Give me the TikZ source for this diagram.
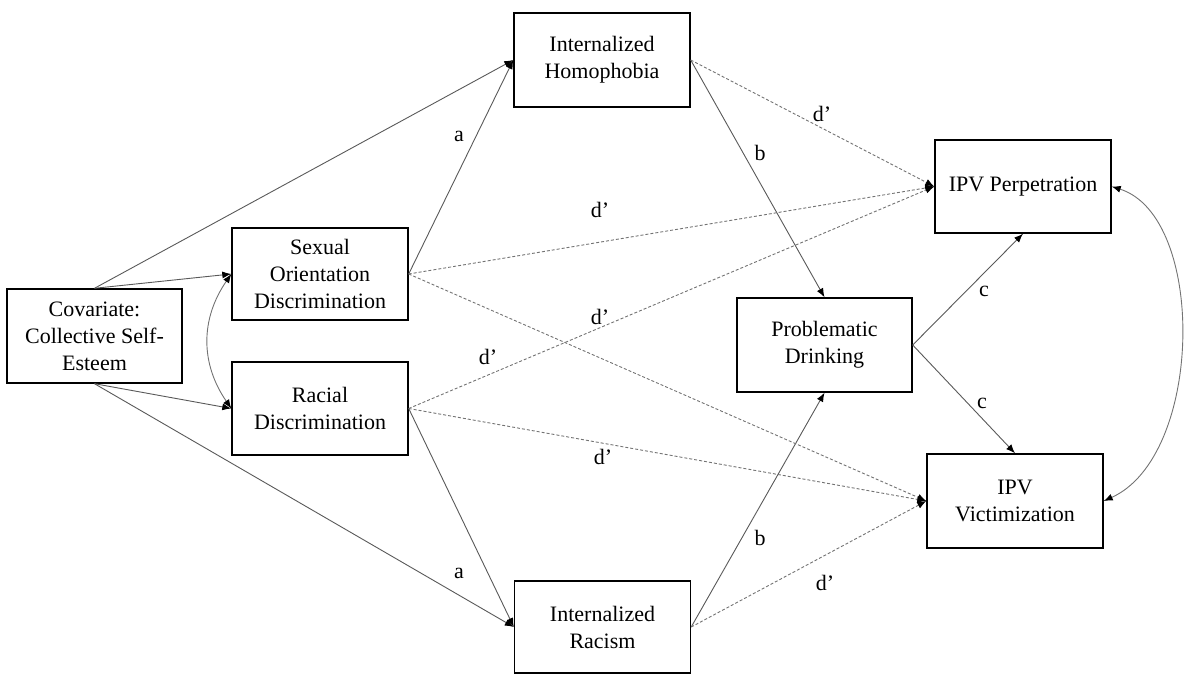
\documentclass[tikz,border=0pt]{standalone}
\usepackage{fontspec}
\setmainfont{Liberation Serif}
\usetikzlibrary{arrows.meta}
\begin{document}
\begin{tikzpicture}[x=1pt,y=-1pt,
  font=\fontsize{22}{27}\selectfont,
  box/.style={draw=black,line width=1.4pt,align=center,inner sep=0pt,
              minimum width=176pt,minimum height=93pt},
  tip/.style={Latex[length=9pt,width=7pt,black]},
  path/.style={draw=black!65,line width=0.9pt,-{Latex[length=9pt,width=7pt,black]}},
  direct/.style={draw=black!55,line width=0.9pt,dash pattern=on 3pt off 2pt,
                 -{Latex[length=9pt,width=7pt,black]}},
  cov/.style={draw=black!55,line width=0.9pt,
              {Latex[length=9pt,width=7pt,black]}-{Latex[length=9pt,width=7pt,black]}},
  lbl/.style={inner sep=0pt}]
\useasboundingbox (0,0) rectangle (1185,676);

% variables
\node[box,minimum width=175pt,minimum height=94pt] (cov) at (94.5,336) {Covariate:\\Collective Self-\\Esteem};
\node[box,minimum height=92pt] (sod) at (320,274) {Sexual\\Orientation\\Discrimination};
\node[box] (rac) at (320,408.5) {Racial\\Discrimination};
\node[box,minimum height=94pt] (ih) at (602,60) {Internalized\\Homophobia};
\node[box,minimum height=92pt] (ir) at (602.5,627) {Internalized\\Racism};
\node[box,minimum width=175pt,minimum height=94pt] (pd) at (824.5,345) {Problematic\\Drinking};
\node[box] (perp) at (1023,186.5) {IPV Perpetration};
\node[box,minimum height=94pt] (vict) at (1015,501) {IPV\\Victimization};

% covariate paths
\draw[path] (cov.north) -- (ih.west);
\draw[path] (cov.north) -- (sod.west);
\draw[path] (cov.south) -- (rac.west);
\draw[path] (cov.south) -- (ir.west);
\draw[cov] (sod.west) .. controls +(-31,45) and +(-31,-45) .. (rac.west);

% a paths
\draw[path] (sod.east) -- (ih.west);
\draw[path] (rac.east) -- (ir.west);
% b paths
\draw[path] (ih.east) -- (pd.north);
\draw[path] (ir.east) -- (pd.south);
% c paths
\draw[path] (pd.east) -- (perp.south);
\draw[path] (pd.east) -- (vict.north);
\draw[cov] (perp.east) .. controls +(95,30) and +(100,-45) .. (vict.east);

% direct paths
\draw[direct] (ih.east) -- (perp.west);
\draw[direct] (sod.east) -- (perp.west);
\draw[direct] (rac.east) -- (perp.west);
\draw[direct] (sod.east) -- (vict.west);
\draw[direct] (rac.east) -- (vict.west);
\draw[direct] (ir.east) -- (vict.west);

% path labels
\node[lbl] (la1) at (459,136) {a};
\node[lbl] (la2) at (459,573) {a};
\node[lbl] (lb1) at (760,153) {b};
\node[lbl] (lb2) at (760,538) {b};
\node[lbl] (lc1) at (984,291) {c};
\node[lbl] (lc2) at (982,403) {c};
\node[lbl] (ld1) at (822,114) {d’};
\node[lbl] (ld2) at (600,210) {d’};
\node[lbl] (ld3) at (600,317) {d’};
\node[lbl] (ld4) at (488,357) {d’};
\node[lbl] (ld5) at (603,457) {d’};
\node[lbl] (ld6) at (825,583) {d’};
\end{tikzpicture}
\end{document}
